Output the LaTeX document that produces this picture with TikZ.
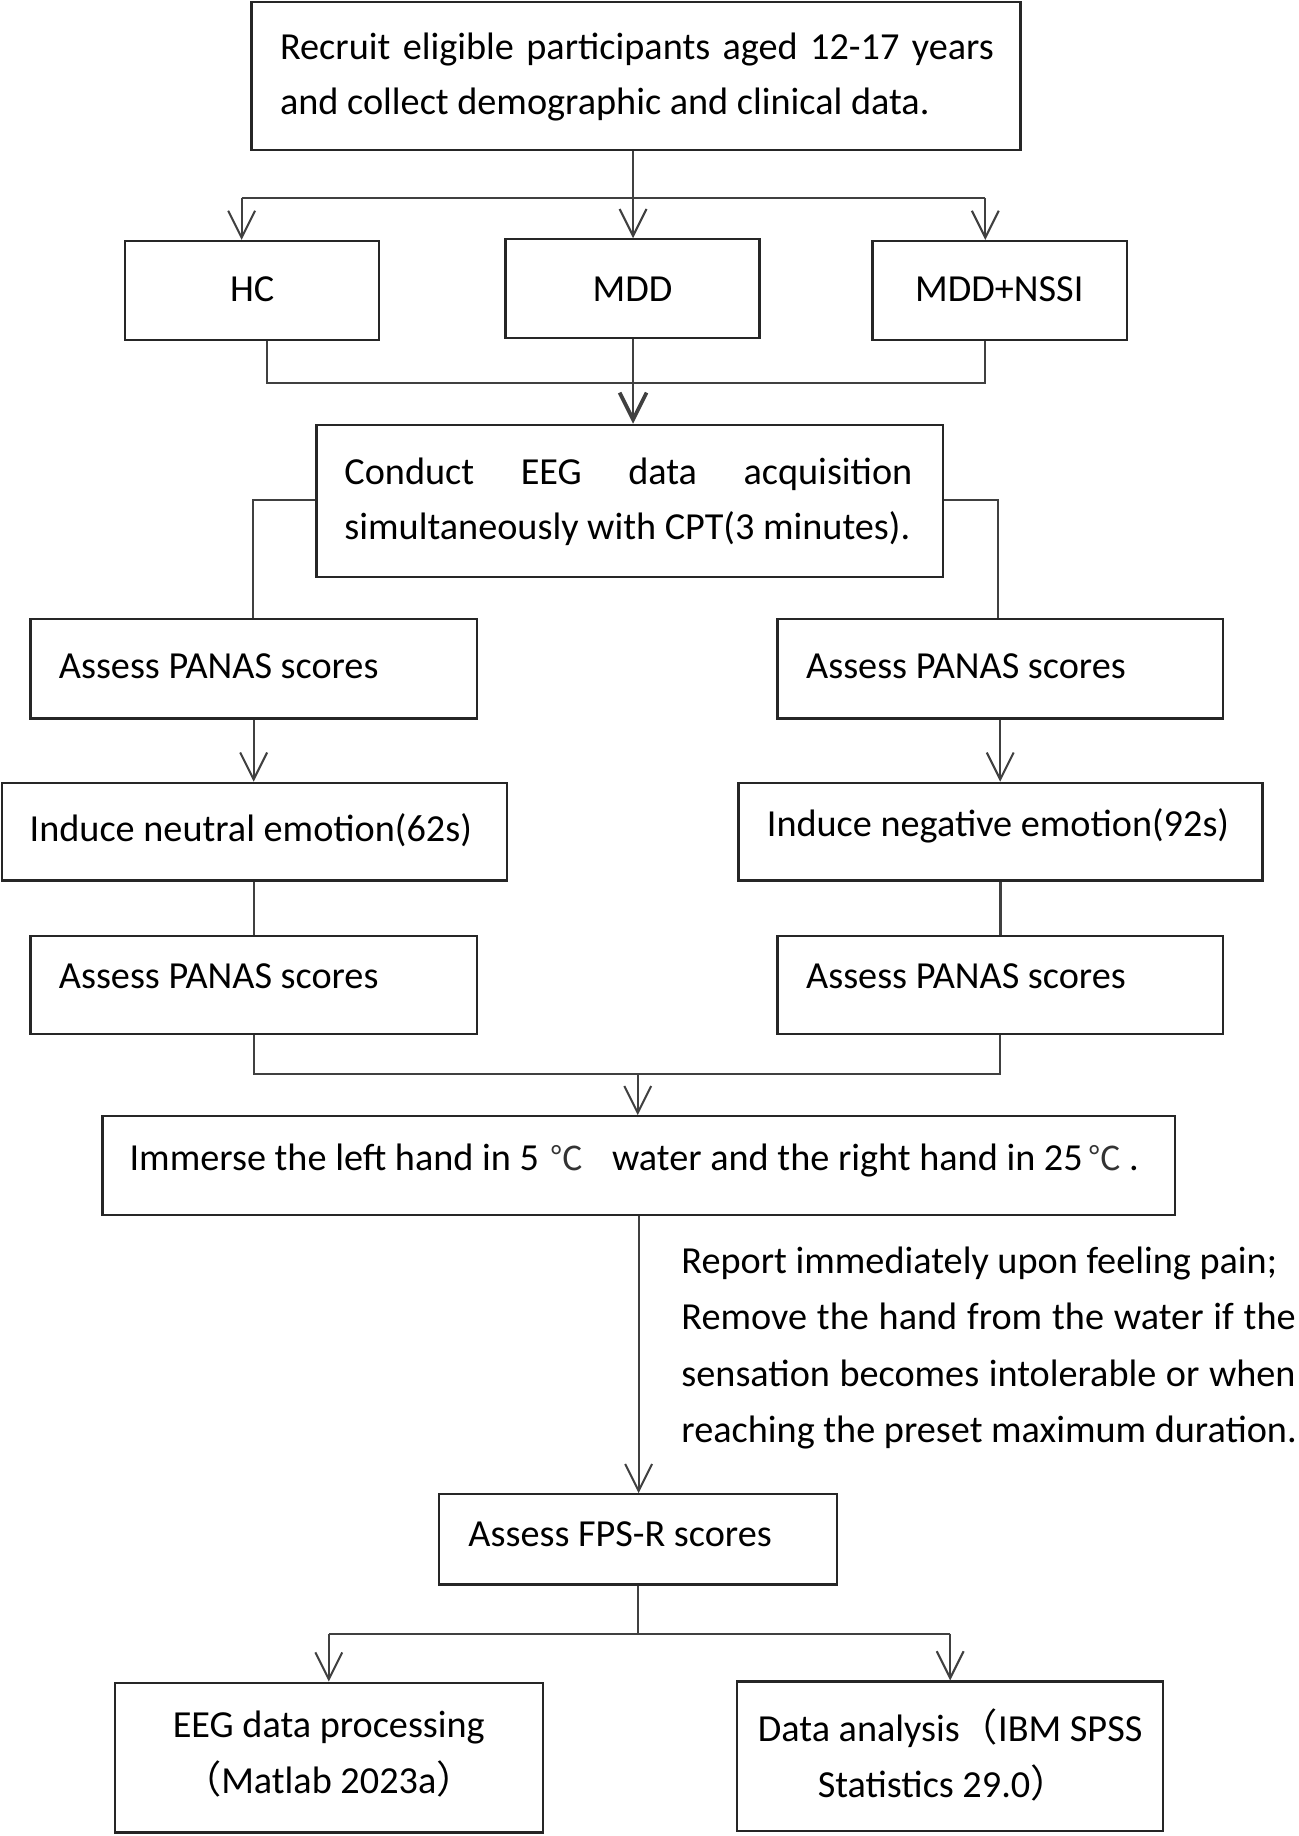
\documentclass[tikz,border=0pt]{standalone}
\usepackage{fontspec}
\setmainfont{Carlito}
\newfontfamily\cjkf{Noto Sans CJK SC}
\newcommand{\degc}{{\cjkf\fontsize{16}{16}\selectfont\color{black!80}℃}}
\usetikzlibrary{arrows.meta,fit}
\begin{document}
\begin{tikzpicture}[x=0.02cm,y=-0.02cm,
  box/.style={draw=black!85, line width=1.1pt, rectangle, inner sep=0pt},
  txt/.style={inner sep=0pt, anchor=base west, font=\fontsize{18.6}{22}\selectfont},
  ctxt/.style={inner sep=0pt, anchor=base, font=\fontsize{18.6}{22}\selectfont},
  conn/.style={draw=black!75, line width=1pt},
  arr/.style={conn, -{Straight Barb[length=0.46cm,width=0.46cm]}},
  arrB/.style={conn, -{Straight Barb[length=0.46cm,width=0.46cm,line width=1.8pt]}},
]
\useasboundingbox (0,0) rectangle (1110,1569);

% boxes
\node[box, fit={(215,2) (872,128)}] (top) {};
\node[box, fit={(107,206) (324,290.5)}] (hc) {};
\node[box, fit={(432,204.5) (649,289)}] (mdd) {};
\node[box, fit={(745.5,206) (963,290.5)}] (nssi) {};
\node[box, fit={(270.5,363) (806,493)}] (eeg) {};
\node[box, fit={(26,529) (407.5,614)}] (pa1) {};
\node[box, fit={(664.5,529) (1045,614)}] (pb1) {};
\node[box, fit={(1.5,669) (433,752.5)}] (neu) {};
\node[box, fit={(631,669) (1079,752.5)}] (neg) {};
\node[box, fit={(26,800) (407.5,883.5)}] (pa2) {};
\node[box, fit={(664.5,800) (1045,883.5)}] (pb2) {};
\node[box, fit={(87.5,954) (1004,1038)}] (imm) {};
\node[box, fit={(375,1277) (715.5,1354)}] (fps) {};
\node[box, fit={(98,1438) (464,1566)}] (eegp) {};
\node[box, fit={(629.5,1437) (994,1565)}] (stat) {};

% texts
\node[txt] (t1a) at (239,50.5) {\makebox[12.2cm][s]{Recruit eligible participants aged 12-17 years}};
\node[txt] (t1b) at (239,98) {and collect demographic and clinical data.};
\node[ctxt] (thc) at (215.5,258) {HC};
\node[ctxt] (tmdd) at (540.5,258) {MDD};
\node[ctxt] (tnssi) at (854,258) {MDD+NSSI};
\node[txt] (t3a) at (294,414) {\makebox[9.71cm][s]{Conduct EEG data acquisition}};
\node[txt] (t3b) at (294,461) {simultaneously with CPT(3 minutes).};
\node[txt] (tpa1) at (50,580) {Assess PANAS scores};
\node[txt] (tpb1) at (688.6,580) {Assess PANAS scores};
\node[txt] (tneu) at (25,719) {Induce neutral emotion(62s)};
\node[txt] (tneg) at (655,714.5) {Induce negative emotion(92s)};
\node[txt] (tpa2) at (50,845) {Assess PANAS scores};
\node[txt] (tpb2) at (688.6,845) {Assess PANAS scores};
\node[txt] (timm) at (110.4,1000.6) {Immerse the left hand in 5\hspace{0.3em}\degc\hspace{0.75em}water and the right hand in 25\hspace{0.15em}\degc\hspace{0.2em}.};
\node[txt] (ta1) at (582,1088) {Report immediately upon feeling pain;};
\node[txt] (ta2) at (582,1136.5) {\makebox[10.5cm][s]{Remove the hand from the water if the}};
\node[txt] (ta3) at (582,1185) {\makebox[10.5cm][s]{sensation becomes intolerable or when}};
\node[txt] (ta4) at (582,1233) {reaching the preset maximum duration.};
\node[txt] (tfps) at (400,1322) {Assess FPS-R scores};
\node[ctxt] (te1) at (281,1485) {EEG data processing};
\node[ctxt] (te2) at (281,1533) {{\cjkf （}Matlab 2023a{\cjkf ）}};
\node[ctxt] (ts1) at (812,1488) {Data analysis{\cjkf （}IBM SPSS};
\node[ctxt] (ts2) at (806,1536) {Statistics 29.0{\cjkf ）}};

% connectors
\coordinate (b1) at (541,169);
\coordinate (bL) at (206.5,169);
\coordinate (bR) at (842,169);
\draw[conn] (b1 |- top.south) -- (b1);
\draw[conn] (bL) -- (bR);
\draw[arr] (bL) -- (bL |- hc.north);
\draw[arr] (b1) -- (b1 |- mdd.north);
\draw[arr] (bR) -- (bR |- nssi.north);

\coordinate (cL) at (228,327);
\coordinate (cM) at (541,327);
\coordinate (cR) at (842,327);
\draw[conn] (cL |- hc.south) -- (cL) -- (cR) -- (cR |- nssi.south);
\draw[conn] (cM |- mdd.south) -- (cM);
\draw[arrB] (cM) -- (cM |- eeg.north);

\coordinate (dL) at (216,427.5);
\coordinate (dR) at (853,427.5);
\draw[conn] (eeg.west |- dL) -- (dL) -- (dL |- pa1.north);
\draw[conn] (eeg.east |- dR) -- (dR) -- (dR |- pb1.north);

\draw[arr] (pa1.south) -- (pa1.south |- neu.north);
\draw[arr] (pb1.south) -- (pb1.south |- neg.north);
\draw[conn] (neu.south) -- (neu.south |- pa2.north);
\draw[conn] (neg.south) -- (neg.south |- pb2.north);

\coordinate (fM) at (545,918);
\draw[conn] (pa2.south) -- (pa2.south |- fM) -- (pb2.south |- fM) -- (pb2.south);
\draw[arr] (fM) -- (fM |- imm.north);
\draw[arr] (imm.south) -- (imm.south |- fps.north);

\coordinate (hM) at (545,1396);
\coordinate (hL) at (281,1396);
\coordinate (hR) at (812,1396);
\draw[conn] (fps.south) -- (fps.south |- hM);
\draw[conn] (hL) -- (hR);
\draw[arr] (hL) -- (hL |- eegp.north);
\draw[arr] (hR) -- (hR |- stat.north);
\end{tikzpicture}
\end{document}
